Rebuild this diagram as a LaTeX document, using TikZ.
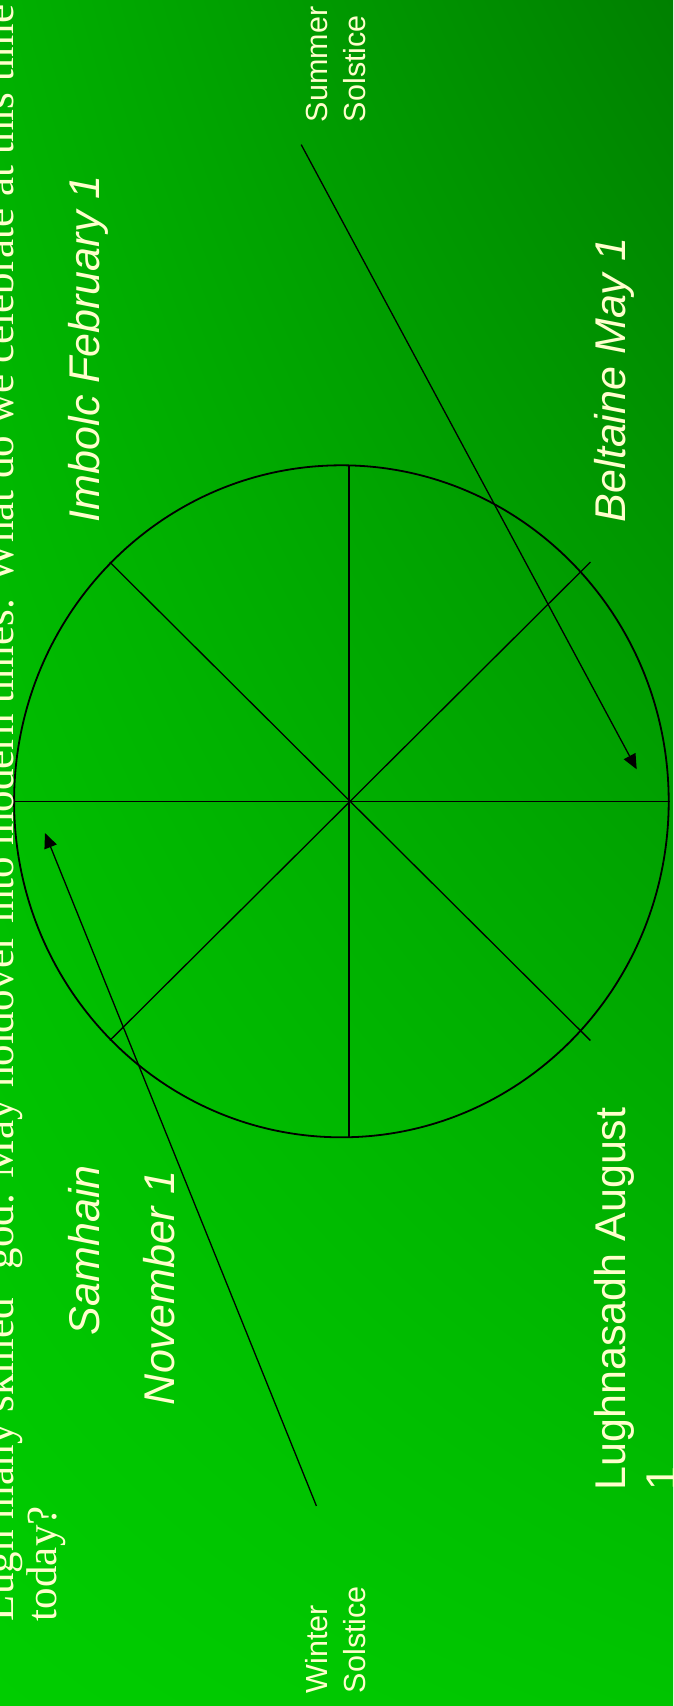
\documentclass[tikz,border=0pt]{standalone}
\usepackage{fontspec}
\setmainfont{Liberation Serif}
\newfontfamily\arialf{Liberation Sans}
\usetikzlibrary{arrows.meta,shadings}
\definecolor{txt}{RGB}{255,255,204}
\definecolor{bgTL}{RGB}{0,176,0}
\definecolor{bgTR}{RGB}{0,128,0}
\definecolor{bgBL}{RGB}{0,205,0}
\definecolor{bgBR}{RGB}{0,196,0}
\begin{document}
\begin{tikzpicture}[x=1pt,y=-1pt,
  lbl/.style={text=txt, inner sep=0pt, outer sep=0pt, rotate=90, anchor=base west},
  big/.style={lbl, font=\arialf\fontsize{43}{50}\selectfont},
  bigit/.style={lbl, font=\arialf\itshape\fontsize{43}{50}\selectfont},
  small/.style={lbl, font=\arialf\fontsize{30.5}{36}\selectfont},
  serif/.style={lbl, font=\fontsize{43}{50}\selectfont},
  spoke/.style={draw=black, line width=1.3pt},
  rim/.style={draw=black, line width=1.8pt},
  arr/.style={draw=black, line width=1.3pt, -{Triangle[length=15pt,width=13pt]}}]
\useasboundingbox (0,0) rectangle (673,1706);
\clip (0,0) rectangle (673,1706);
\shade[upper left=bgTL, upper right=bgTR, lower left=bgBL, lower right=bgBR] (0,0) rectangle (673,1706);

% wheel
\coordinate (wc) at (341.4,801.3);
\coordinate (hub) at (349.0,801.3);
\coordinate (hW) at (14.1,801.3);
\coordinate (hE) at (669.8,801.3);
\coordinate (vN) at (349.0,465.4);
\coordinate (vS) at (349.0,1137.3);
\coordinate (dNW) at (109.8,562.1);
\coordinate (dSE) at (590.4,1040.5);
\coordinate (dNE) at (590.4,562.1);
\coordinate (dSW) at (109.8,1040.5);
\path[rim] (wc) ellipse [x radius=327.3pt, y radius=336pt];
\draw[spoke] (hW) -- (hE);
\draw[spoke] (vN) -- (vS);
\draw[spoke] (dNW) -- (dSE);
\draw[spoke] (dNE) -- (dSW);

% arrows
\coordinate (a1s) at (301.2,144.6);
\coordinate (a1e) at (636.7,769.3);
\coordinate (a2s) at (316.4,1505.9);
\coordinate (a2e) at (45.0,833.0);
\draw[arr] (a1s) -- (a1e);
\draw[arr] (a2s) -- (a2e);

% main text
\node[serif] (line1) at (13,1621) {\makebox[1616pt][s]{Lugh many skilled\hspace{0.4em} god. May holdover into modern times. What do we celebrate at this time}};
\node[serif] (line2) at (56,1621) {today?};

% festival labels
\node[bigit] (imbolc) at (99,522) {Imbolc February 1};
\node[bigit] (samhain) at (99,1335) {Samhain};
\node[bigit] (november) at (174,1405) {November 1};
\node[bigit] (beltaine) at (625,522) {Beltaine May 1};
\node[big] (lugh1) at (625,1490) {Lughnasadh August};
\node[big] (lugh2) at (676,1490) {1};

% solstices
\node[small] (summer1) at (327,122) {Summer};
\node[small] (summer2) at (365,122) {Solstice};
\node[small] (winter1) at (327,1693) {Winter};
\node[small] (winter2) at (365,1693) {Solstice};
\end{tikzpicture}
\end{document}
